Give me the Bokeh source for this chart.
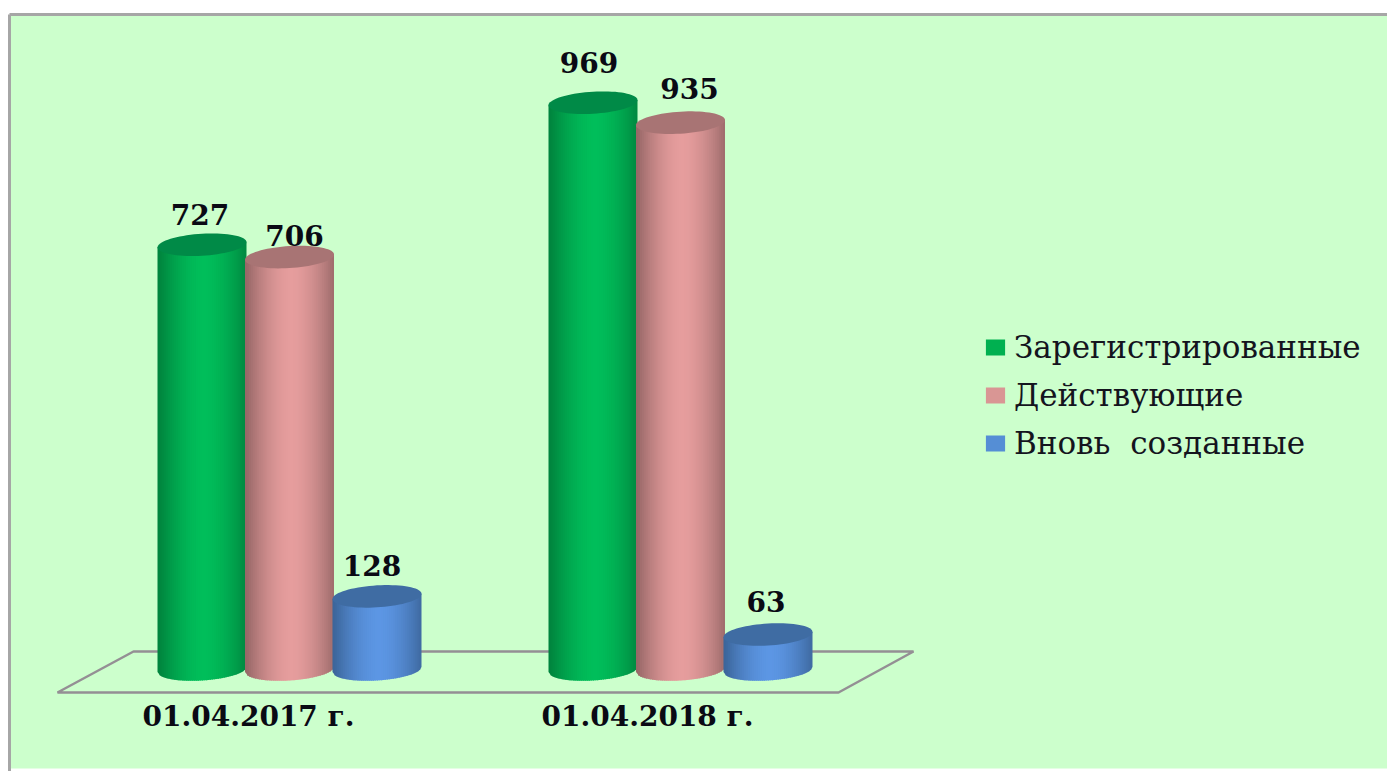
import math
from bokeh.plotting import figure
from bokeh.models import Range1d, Legend, LegendItem, LinearAxis, FixedTicker, ColumnDataSource
from bokeh.core.properties import value
from bokeh.embed import file_html
from bokeh.resources import INLINE

categories = ["01.04.2017 г.", "01.04.2018 г."]
series_names = ["Зарегистрированные", "Действующие", "Вновь  созданные"]
registered = [727, 969]
active = [706, 935]
created = [128, 63]
series_values = [registered, active, created]

legend_colors = ["#00B050", "#D99694", "#558ED5"]
centre_colors = [(0, 190, 90), (230, 157, 157), (92, 150, 228)]
edge_colors = [(0, 132, 62), (152, 104, 104), (60, 102, 155)]
top_colors = ["#008A47", "#A87474", "#3F6CA3"]

# label nudges, in pixels, per category then series
label_dx = [[-2, 5, -5], [-4, 9, -2]]
label_dy = [[-30, -22, -31], [-40, -34, -33]]

W, H = 1387, 771
PY0, KY = 671.0, 0.587     # page pixel of value 0, pixels per unit
PX0, STEP = 289.0, 391.0   # page pixel of category 0, pixels per category


def X(px):
    return (px - PX0) / STEP


def Y(py):
    return (PY0 - py) / KY


p = figure(width=W, height=H, output_backend="svg", toolbar_location=None,
           x_range=Range1d(X(0), X(W)), y_range=Range1d(Y(H), Y(0)),
           x_axis_location=None, y_axis_location=None, min_border=0,
           background_fill_color="#FFFFFF", border_fill_color="#FFFFFF")
p.outline_line_color = None
p.grid.visible = False

# page panel
p.quad(left=[X(10)], right=[X(W)], bottom=[Y(768)], top=[Y(15)],
       fill_color="#CCFFCC", line_color=None)
p.line([X(9), X(9)], [Y(H), Y(14)], line_color="#A6A6A6", line_width=3)
p.line([X(9), X(W)], [Y(14), Y(14)], line_color="#A6A6A6", line_width=3)

# floor
p.patch([X(57), X(133), X(913), X(838)], [Y(692), Y(651), Y(651), Y(692)],
        fill_color=None, line_color="#948F94", line_width=2.5)

BAR = 89.0
RY = 11.0
TILT = 2.6
N = 44


def mix(a, b, t):
    return "#%02X%02X%02X" % tuple(round(a[i] + (b[i] - a[i]) * t) for i in range(3))


for c in range(len(categories)):
    for s, vals in enumerate(series_values):
        cx = PX0 + STEP * c + (s - 1) * 87.5
        v = vals[c]
        ytop = PY0 - KY * v
        xs, ys, cols = [], [], []
        for i in range(N):
            u0 = -1 + 2 * i / N
            u1 = min(-1 + 2 * (i + 1) / N + 0.02, 1)
            def bot(u):
                return PY0 - 2 - TILT * u + RY * math.sqrt(max(0, 1 - u * u))
            def top(u):
                return ytop - TILT * u
            xpx = [cx + u0 * BAR / 2, cx + u1 * BAR / 2, cx + u1 * BAR / 2, cx + u0 * BAR / 2]
            ypx = [top(u0), top(u1), bot(u1), bot(u0)]
            xs.append([X(a) for a in xpx])
            ys.append([Y(a) for a in ypx])
            um = (u0 + u1) / 2 - 0.05
            t = min(1, abs(um)) ** 1.7
            cols.append(mix(centre_colors[s], edge_colors[s], t))
        p.patches(xs, ys, fill_color=cols, line_color=None)
        ex, ey = [], []
        for k in range(73):
            a = 2 * math.pi * k / 72
            u, w = math.cos(a), math.sin(a)
            ex.append(X(cx + u * BAR / 2))
            ey.append(Y(ytop - TILT * u + RY * w))
        p.patch(ex, ey, fill_color=top_colors[s], line_color=None)

# value labels
lx, ly, lt, loff = [], [], [], []
for c in range(len(categories)):
    for s, vals in enumerate(series_values):
        lx.append(c + ((s - 1) * 87.5 + label_dx[c][s]) / STEP)
        ly.append(vals[c])
        lt.append(str(vals[c]))
        loff.append(label_dy[c][s])
src = ColumnDataSource(dict(x=lx, y=ly, t=lt, off=loff))
p.text("x", "y", text="t", y_offset="off", source=src,
       text_font=value("DejaVu Serif"), text_font_style="bold",
       text_font_size="28px", text_color="#0A0A14", text_align="center",
       text_baseline="middle")

# category axis
axis = LinearAxis(fixed_location=Y(699),
                  ticker=FixedTicker(ticks=[X(248), X(647)]),
                  major_label_overrides={X(248): categories[0], X(647): categories[1]},
                  axis_line_color=None, major_tick_line_color=None, minor_tick_line_color=None,
                  major_tick_in=0, major_tick_out=0, major_label_standoff=0,
                  major_label_text_font="DejaVu Serif", major_label_text_font_style="bold",
                  major_label_text_font_size="28px", major_label_text_color="#0A0A14")
p.add_layout(axis, "below")

# legend
items = []
for name, col in zip(series_names, legend_colors):
    r = p.quad(left=[0], right=[0], top=[0], bottom=[0], fill_color=col, line_color=None)
    items.append(LegendItem(label=name, renderers=[r]))
legend = Legend(items=items, location=(983, H - 325 - 136),
                background_fill_alpha=0, border_line_color=None,
                glyph_width=24, glyph_height=20, spacing=12, margin=0, padding=0,
                label_standoff=7,
                label_text_font="DejaVu Serif", label_text_font_size="31px",
                label_text_color="#14141E")
p.add_layout(legend, "center")

open("out.html", "w").write(file_html(p, INLINE))
